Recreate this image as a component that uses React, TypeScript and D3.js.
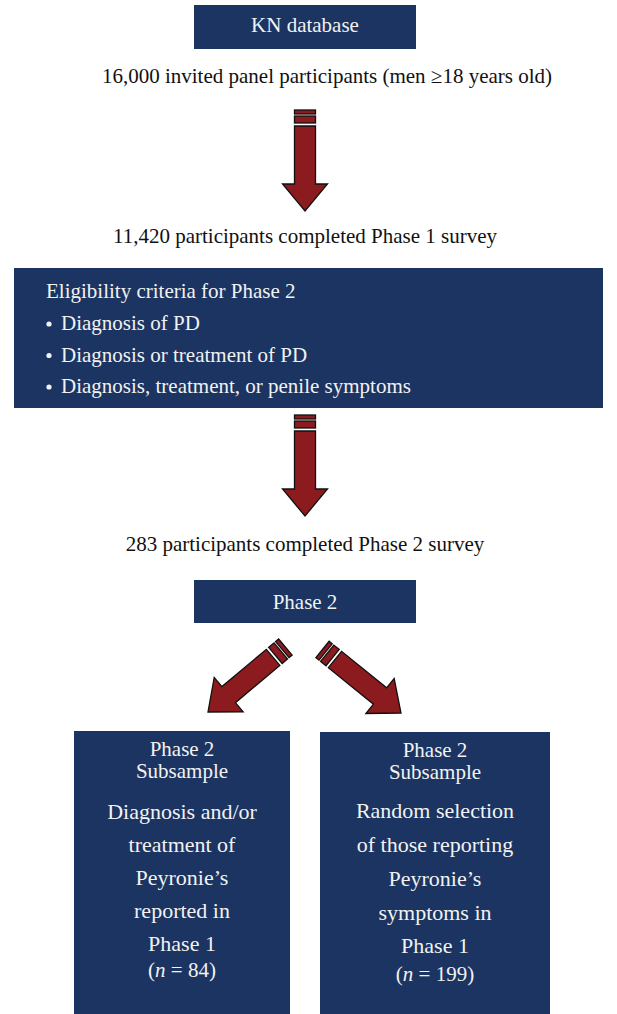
import React from "react";
import * as d3 from "d3";

const W = 617;
const H = 1014;
const NAVY = "#1b3461";
const RED = "#8c1b1f";
const FONT = "'Liberation Serif'";

const topBoxLabel = "KN database";
const invitedText = "16,000 invited panel participants (men \u226518 years old)";
const phase1Text = "11,420 participants completed Phase 1 survey";
const criteriaTitle = "Eligibility criteria for Phase 2";
const criteriaItems = [
  "Diagnosis of PD",
  "Diagnosis or treatment of PD",
  "Diagnosis, treatment, or penile symptoms",
];
const phase2Text = "283 participants completed Phase 2 survey";
const phase2BoxLabel = "Phase 2";
const leftHeader = ["Phase 2", "Subsample"];
const leftBody = ["Diagnosis and/or", "treatment of", "Peyronie\u2019s", "reported in", "Phase 1"];
const leftN = "84";
const rightHeader = ["Phase 2", "Subsample"];
const rightBody = ["Random selection", "of those reporting", "Peyronie\u2019s", "symptoms in", "Phase 1"];
const rightN = "199";

const arrows = [
  { x: 305, y: 211, angle: 0 },
  { x: 305, y: 516, angle: 0 },
  { x: 208, y: 712, angle: 50 },
  { x: 401, y: 713, angle: -51 },
];

function Arrow({ x, y, angle }: { x: number; y: number; angle: number }) {
  const body = d3.line()([
    [-10.5, -85],
    [10.5, -85],
    [10.5, -27],
    [22.5, -27],
    [0, 0],
    [-22.5, -27],
    [-10.5, -27],
  ]) + "Z";
  return (
    <g transform={`translate(${x},${y}) rotate(${angle})`}>
      <rect x={-10.5} y={-101} width={21} height={4} fill={RED} stroke="#111" strokeWidth={1.3} />
      <rect x={-10.5} y={-95} width={21} height={7} fill={RED} stroke="#111" strokeWidth={1.3} />
      <path d={body} fill={RED} stroke="#111" strokeWidth={1.3} strokeLinejoin="miter" />
    </g>
  );
}

function BottomBox({
  x0, x1, y0, header, body, n, headerY, bodyY, nY,
}: {
  x0: number; x1: number; y0: number; header: string[]; body: string[]; n: string;
  headerY: number[]; bodyY: number[]; nY: number;
}) {
  const cx = (x0 + x1) / 2;
  return (
    <g>
      <rect x={x0} y={y0} width={x1 - x0} height={H - y0} fill={NAVY} />
      {header.map((t, i) => (
        <text key={"h" + i} x={cx} y={headerY[i]} textAnchor="middle" fontSize={21} fill="#f2f2f2">{t}</text>
      ))}
      {body.map((t, i) => (
        <text key={"b" + i} x={cx} y={bodyY[i]} textAnchor="middle" fontSize={22} fill="#f2f2f2">{t}</text>
      ))}
      <text x={cx} y={nY} textAnchor="middle" fontSize={21} fill="#f2f2f2">
        (<tspan fontStyle="italic">n</tspan> = {n})
      </text>
    </g>
  );
}

export default function App() {
  const critY = d3.range(criteriaItems.length).map((i) => 330 + i * 31.5);
  return (
    <svg width={W} height={H} style={{ position: "absolute", left: 0, top: 0, fontFamily: FONT }}>
      <rect width={W} height={H} fill="#fff" />
      <rect x={194} y={5} width={222} height={44} fill={NAVY} />
      <text x={305} y={32} textAnchor="middle" fontSize={21} fill="#f2f2f2">{topBoxLabel}</text>
      <text x={327} y={83} textAnchor="middle" fontSize={21} fill="#111">{invitedText}</text>
      <text x={305} y={243} textAnchor="middle" fontSize={21} fill="#111">{phase1Text}</text>

      <rect x={14} y={268} width={589} height={140} fill={NAVY} />
      <text x={46} y={298} fontSize={21} fill="#f2f2f2">{criteriaTitle}</text>
      {criteriaItems.map((t, i) => (
        <g key={i}>
          <circle cx={49} cy={critY[i] - 6} r={2.6} fill="#f2f2f2" />
          <text x={61} y={critY[i]} fontSize={21} fill="#f2f2f2">{t}</text>
        </g>
      ))}

      <text x={305} y={551} textAnchor="middle" fontSize={21} fill="#111">{phase2Text}</text>

      <rect x={194} y={580} width={222} height={43} fill={NAVY} />
      <text x={305} y={609} textAnchor="middle" fontSize={21} fill="#f2f2f2">{phase2BoxLabel}</text>

      {arrows.map((a, i) => (
        <Arrow key={i} {...a} />
      ))}

      <BottomBox x0={74} x1={290} y0={731} header={leftHeader} body={leftBody} n={leftN}
        headerY={[756, 778]} bodyY={[819, 852, 885, 918, 951]} nY={977} />
      <BottomBox x0={320} x1={550} y0={732} header={rightHeader} body={rightBody} n={rightN}
        headerY={[757, 779]} bodyY={[818, 852, 886, 920, 953]} nY={981} />
    </svg>
  );
}
